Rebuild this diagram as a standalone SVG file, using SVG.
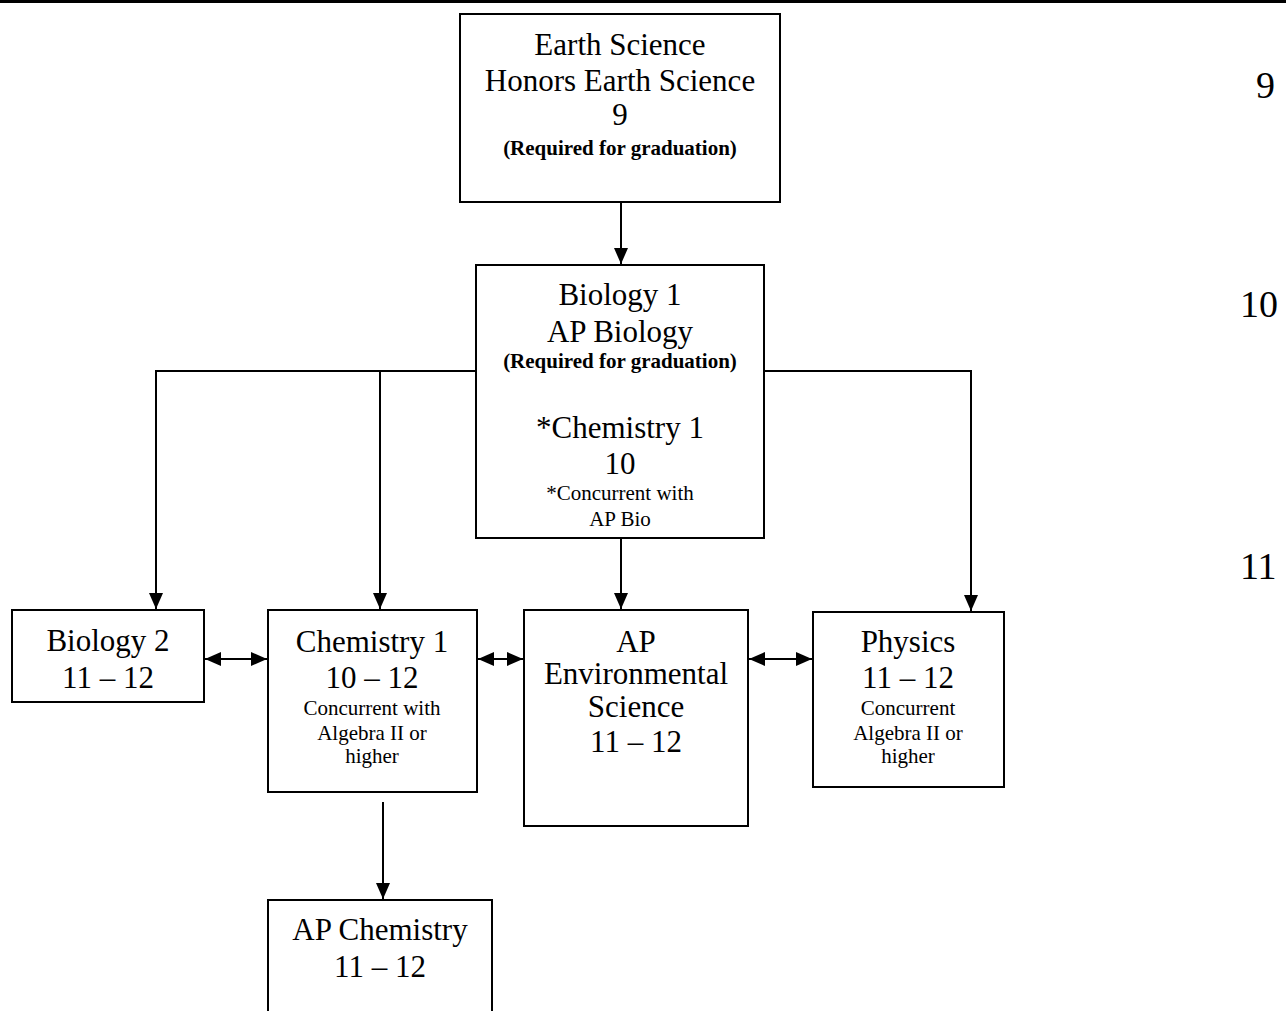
<svg xmlns="http://www.w3.org/2000/svg" width="1286" height="1011" viewBox="0 0 1286 1011">
<style>
.box{fill:#fff;stroke:#000;stroke-width:2}
.ln{fill:none;stroke:#000;stroke-width:2}
text{font-family:"Liberation Serif","Times New Roman",serif;fill:#000;text-anchor:middle}
.L{font-size:31px}
.S{font-size:21px}
.B{font-size:21px;font-weight:bold}
.G{font-size:38px;text-anchor:start}
</style>
<defs>
<marker id="ah" viewBox="0 0 16 14" refX="16" refY="7" markerWidth="16" markerHeight="14" markerUnits="userSpaceOnUse" orient="auto-start-reverse">
<path d="M0,0 L16,7 L0,14 Z" fill="#000"/>
</marker>
</defs>
<rect x="0" y="0" width="1286" height="1011" fill="#fff"/>
<line x1="0" y1="1.5" x2="1286" y2="1.5" stroke="#000" stroke-width="3"/>

<g id="connectors">
<line class="ln" x1="621" y1="203" x2="621" y2="264" marker-end="url(#ah)"/>
<polyline class="ln" points="476,371 156,371 156,609" marker-end="url(#ah)"/>
<line class="ln" x1="380" y1="371" x2="380" y2="609" marker-end="url(#ah)"/>
<polyline class="ln" points="764,371 971,371 971,611" marker-end="url(#ah)"/>
<line class="ln" x1="621" y1="539" x2="621" y2="609" marker-end="url(#ah)"/>
<line class="ln" x1="205" y1="659" x2="267" y2="659" marker-start="url(#ah)" marker-end="url(#ah)"/>
<line class="ln" x1="478" y1="659" x2="523" y2="659" marker-start="url(#ah)" marker-end="url(#ah)"/>
<line class="ln" x1="749" y1="659" x2="812" y2="659" marker-start="url(#ah)" marker-end="url(#ah)"/>
<line class="ln" x1="383" y1="802" x2="383" y2="899" marker-end="url(#ah)"/>
</g>

<g id="earth">
<rect class="box" x="460" y="14" width="320" height="188"/>
<text class="L" x="620" y="55">Earth Science</text>
<text class="L" x="620" y="91">Honors Earth Science</text>
<text class="L" x="620" y="125">9</text>
<text class="B" x="620" y="155">(Required for graduation)</text>
</g>

<g id="bio1">
<rect class="box" x="476" y="265" width="288" height="273"/>
<text class="L" x="620" y="305">Biology 1</text>
<text class="L" x="620" y="342">AP Biology</text>
<text class="B" x="620" y="368">(Required for graduation)</text>
<text class="L" x="620" y="438">*Chemistry 1</text>
<text class="L" x="620" y="474">10</text>
<text class="S" x="620" y="500">*Concurrent with</text>
<text class="S" x="620" y="526">AP Bio</text>
</g>

<g id="bio2">
<rect class="box" x="12" y="610" width="192" height="92"/>
<text class="L" x="108" y="651">Biology 2</text>
<text class="L" x="108" y="688">11 – 12</text>
</g>

<g id="chem1">
<rect class="box" x="268" y="610" width="209" height="182"/>
<text class="L" x="372" y="652">Chemistry 1</text>
<text class="L" x="372" y="688">10 – 12</text>
<text class="S" x="372" y="715">Concurrent with</text>
<text class="S" x="372" y="740">Algebra II or</text>
<text class="S" x="372" y="763">higher</text>
</g>

<g id="apenv">
<rect class="box" x="524" y="610" width="224" height="216"/>
<text class="L" x="636" y="652">AP</text>
<text class="L" x="636" y="684">Environmental</text>
<text class="L" x="636" y="717">Science</text>
<text class="L" x="636" y="752">11 – 12</text>
</g>

<g id="physics">
<rect class="box" x="813" y="612" width="191" height="175"/>
<text class="L" x="908" y="652">Physics</text>
<text class="L" x="908" y="688">11 – 12</text>
<text class="S" x="908" y="715">Concurrent</text>
<text class="S" x="908" y="740">Algebra II or</text>
<text class="S" x="908" y="763">higher</text>
</g>

<g id="apchem">
<rect class="box" x="268" y="900" width="224" height="130"/>
<text class="L" x="380" y="940">AP Chemistry</text>
<text class="L" x="380" y="977">11 – 12</text>
</g>

<g id="grades">
<text class="G" x="1256" y="98">9</text>
<text class="G" x="1240" y="317">10</text>
<text class="G" x="1240" y="579">11</text>
</g>
</svg>
